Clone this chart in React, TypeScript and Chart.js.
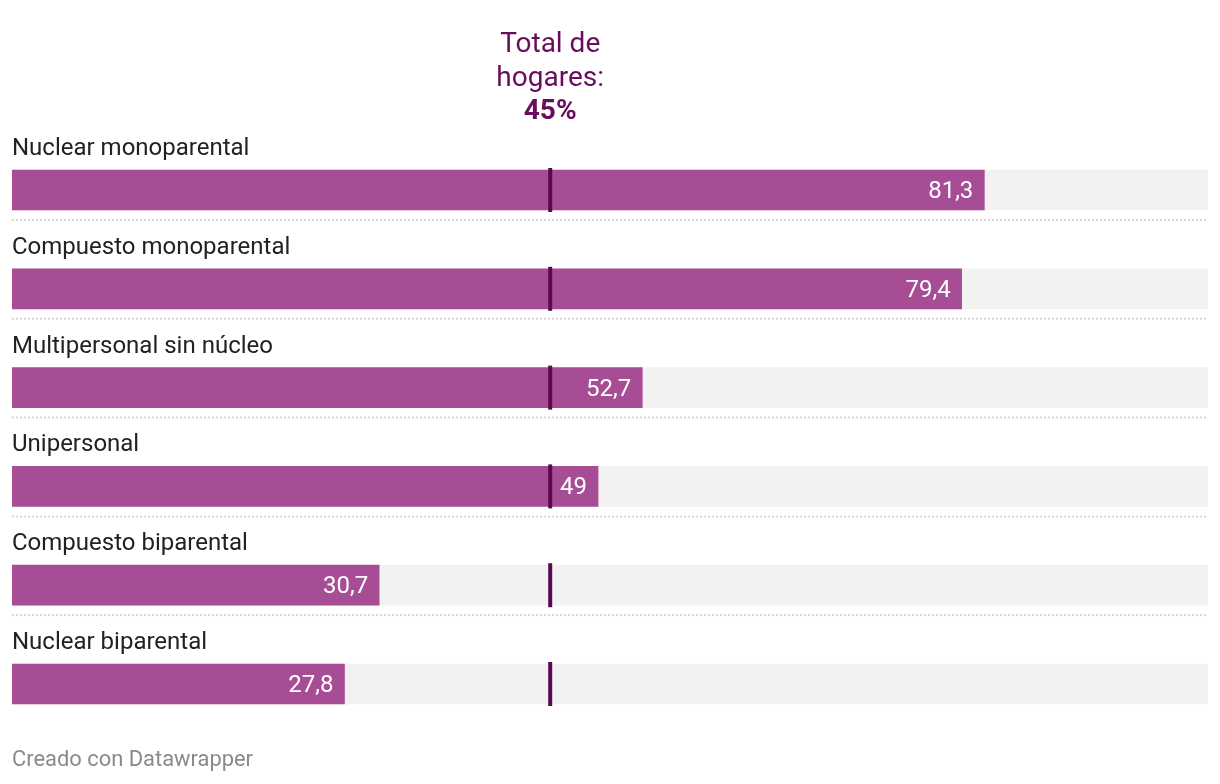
import React, { useEffect, useRef } from "react";
import { Chart, registerables } from "chart.js";

Chart.register(...registerables);

const categories = [
  "Nuclear monoparental",
  "Compuesto monoparental",
  "Multipersonal sin núcleo",
  "Unipersonal",
  "Compuesto biparental",
  "Nuclear biparental",
];
const values = [81.3, 79.4, 52.7, 49, 30.7, 27.8];
const trackMax = [100, 100, 100, 100, 100, 100];
const totalValue = 45;
const annotationLines = ["Total de", "hogares:"];
const annotationValue = "45%";
const footerText = "Creado con Datawrapper";

const BAR = "#a64d96";
const TRACK = "#f2f2f2";
const MARK = "#5c0851";
const ANNOT = "#690c5d";
const FONT = "Roboto, 'Noto Sans', sans-serif";

const fmt = (v: number) => String(v).replace(".", ",");

const overlayPlugin = {
  id: "overlay",
  afterDatasetsDraw(chart: any) {
    const { ctx } = chart;
    const xs = chart.scales.x;
    const ys = chart.scales.y;
    const x0 = xs.getPixelForValue(0);
    const x1 = xs.getPixelForValue(100);
    const xm = xs.getPixelForValue(totalValue);
    const half = 20;
    ctx.save();
    categories.forEach((cat, i) => {
      const yc = ys.getPixelForValue(i);
      // category label
      ctx.fillStyle = "#222222";
      ctx.font = `24px ${FONT}`;
      ctx.textAlign = "left";
      ctx.textBaseline = "alphabetic";
      ctx.fillText(cat, x0, yc - 35);
      // value label
      const xe = xs.getPixelForValue(values[i]);
      ctx.fillStyle = "#ffffff";
      ctx.textAlign = "right";
      ctx.fillText(fmt(values[i]), xe - 11, yc + 8);
      // marker
      ctx.fillStyle = MARK;
      ctx.fillRect(xm - 2, yc - half - 2, 4, half * 2 + 4);
      // separator
      if (i < categories.length - 1) {
        ctx.strokeStyle = "#d6d6d6";
        ctx.lineWidth = 2;
        ctx.setLineDash([2, 2]);
        ctx.beginPath();
        ctx.moveTo(x0, yc + 30);
        ctx.lineTo(x1, yc + 30);
        ctx.stroke();
        ctx.setLineDash([]);
      }
    });
    // annotation
    ctx.fillStyle = ANNOT;
    ctx.textAlign = "center";
    ctx.font = `28px ${FONT}`;
    ctx.fillText(annotationLines[0], xm, 52);
    ctx.fillText(annotationLines[1], xm, 86);
    ctx.font = `bold 28px ${FONT}`;
    ctx.fillText(annotationValue, xm, 119);
    // footer
    ctx.fillStyle = "#8a8a8a";
    ctx.textAlign = "left";
    ctx.font = `21.9px ${FONT}`;
    ctx.fillText(footerText, x0, 766);
    ctx.restore();
  },
};

export default function App() {
  const ref = useRef<HTMLCanvasElement>(null);
  useEffect(() => {
    if (!ref.current) return;
    const chart = new Chart(ref.current, {
      type: "bar",
      data: {
        labels: categories,
        datasets: [
          {
            data: values,
            backgroundColor: BAR,
            barThickness: 40,
            grouped: false,
            order: 0,
          },
          {
            data: trackMax,
            backgroundColor: TRACK,
            barThickness: 40,
            grouped: false,
            order: 1,
          },
        ],
      },
      options: {
        indexAxis: "y",
        animation: false,
        responsive: false,
        events: [],
        layout: { padding: { top: 140.6, bottom: 50.6, left: 12, right: 12 } },
        plugins: { legend: { display: false }, tooltip: { enabled: false } },
        scales: {
          x: { display: false, min: 0, max: 100 },
          y: { display: false },
        },
      },
      plugins: [overlayPlugin],
    } as any);
    return () => chart.destroy();
  }, []);
  return (
    <div style={{ position: "absolute", left: 0, top: 0, width: 1220, height: 784, background: "#fff" }}>
      <canvas ref={ref} width={1220} height={784} style={{ display: "block" }} />
    </div>
  );
}
